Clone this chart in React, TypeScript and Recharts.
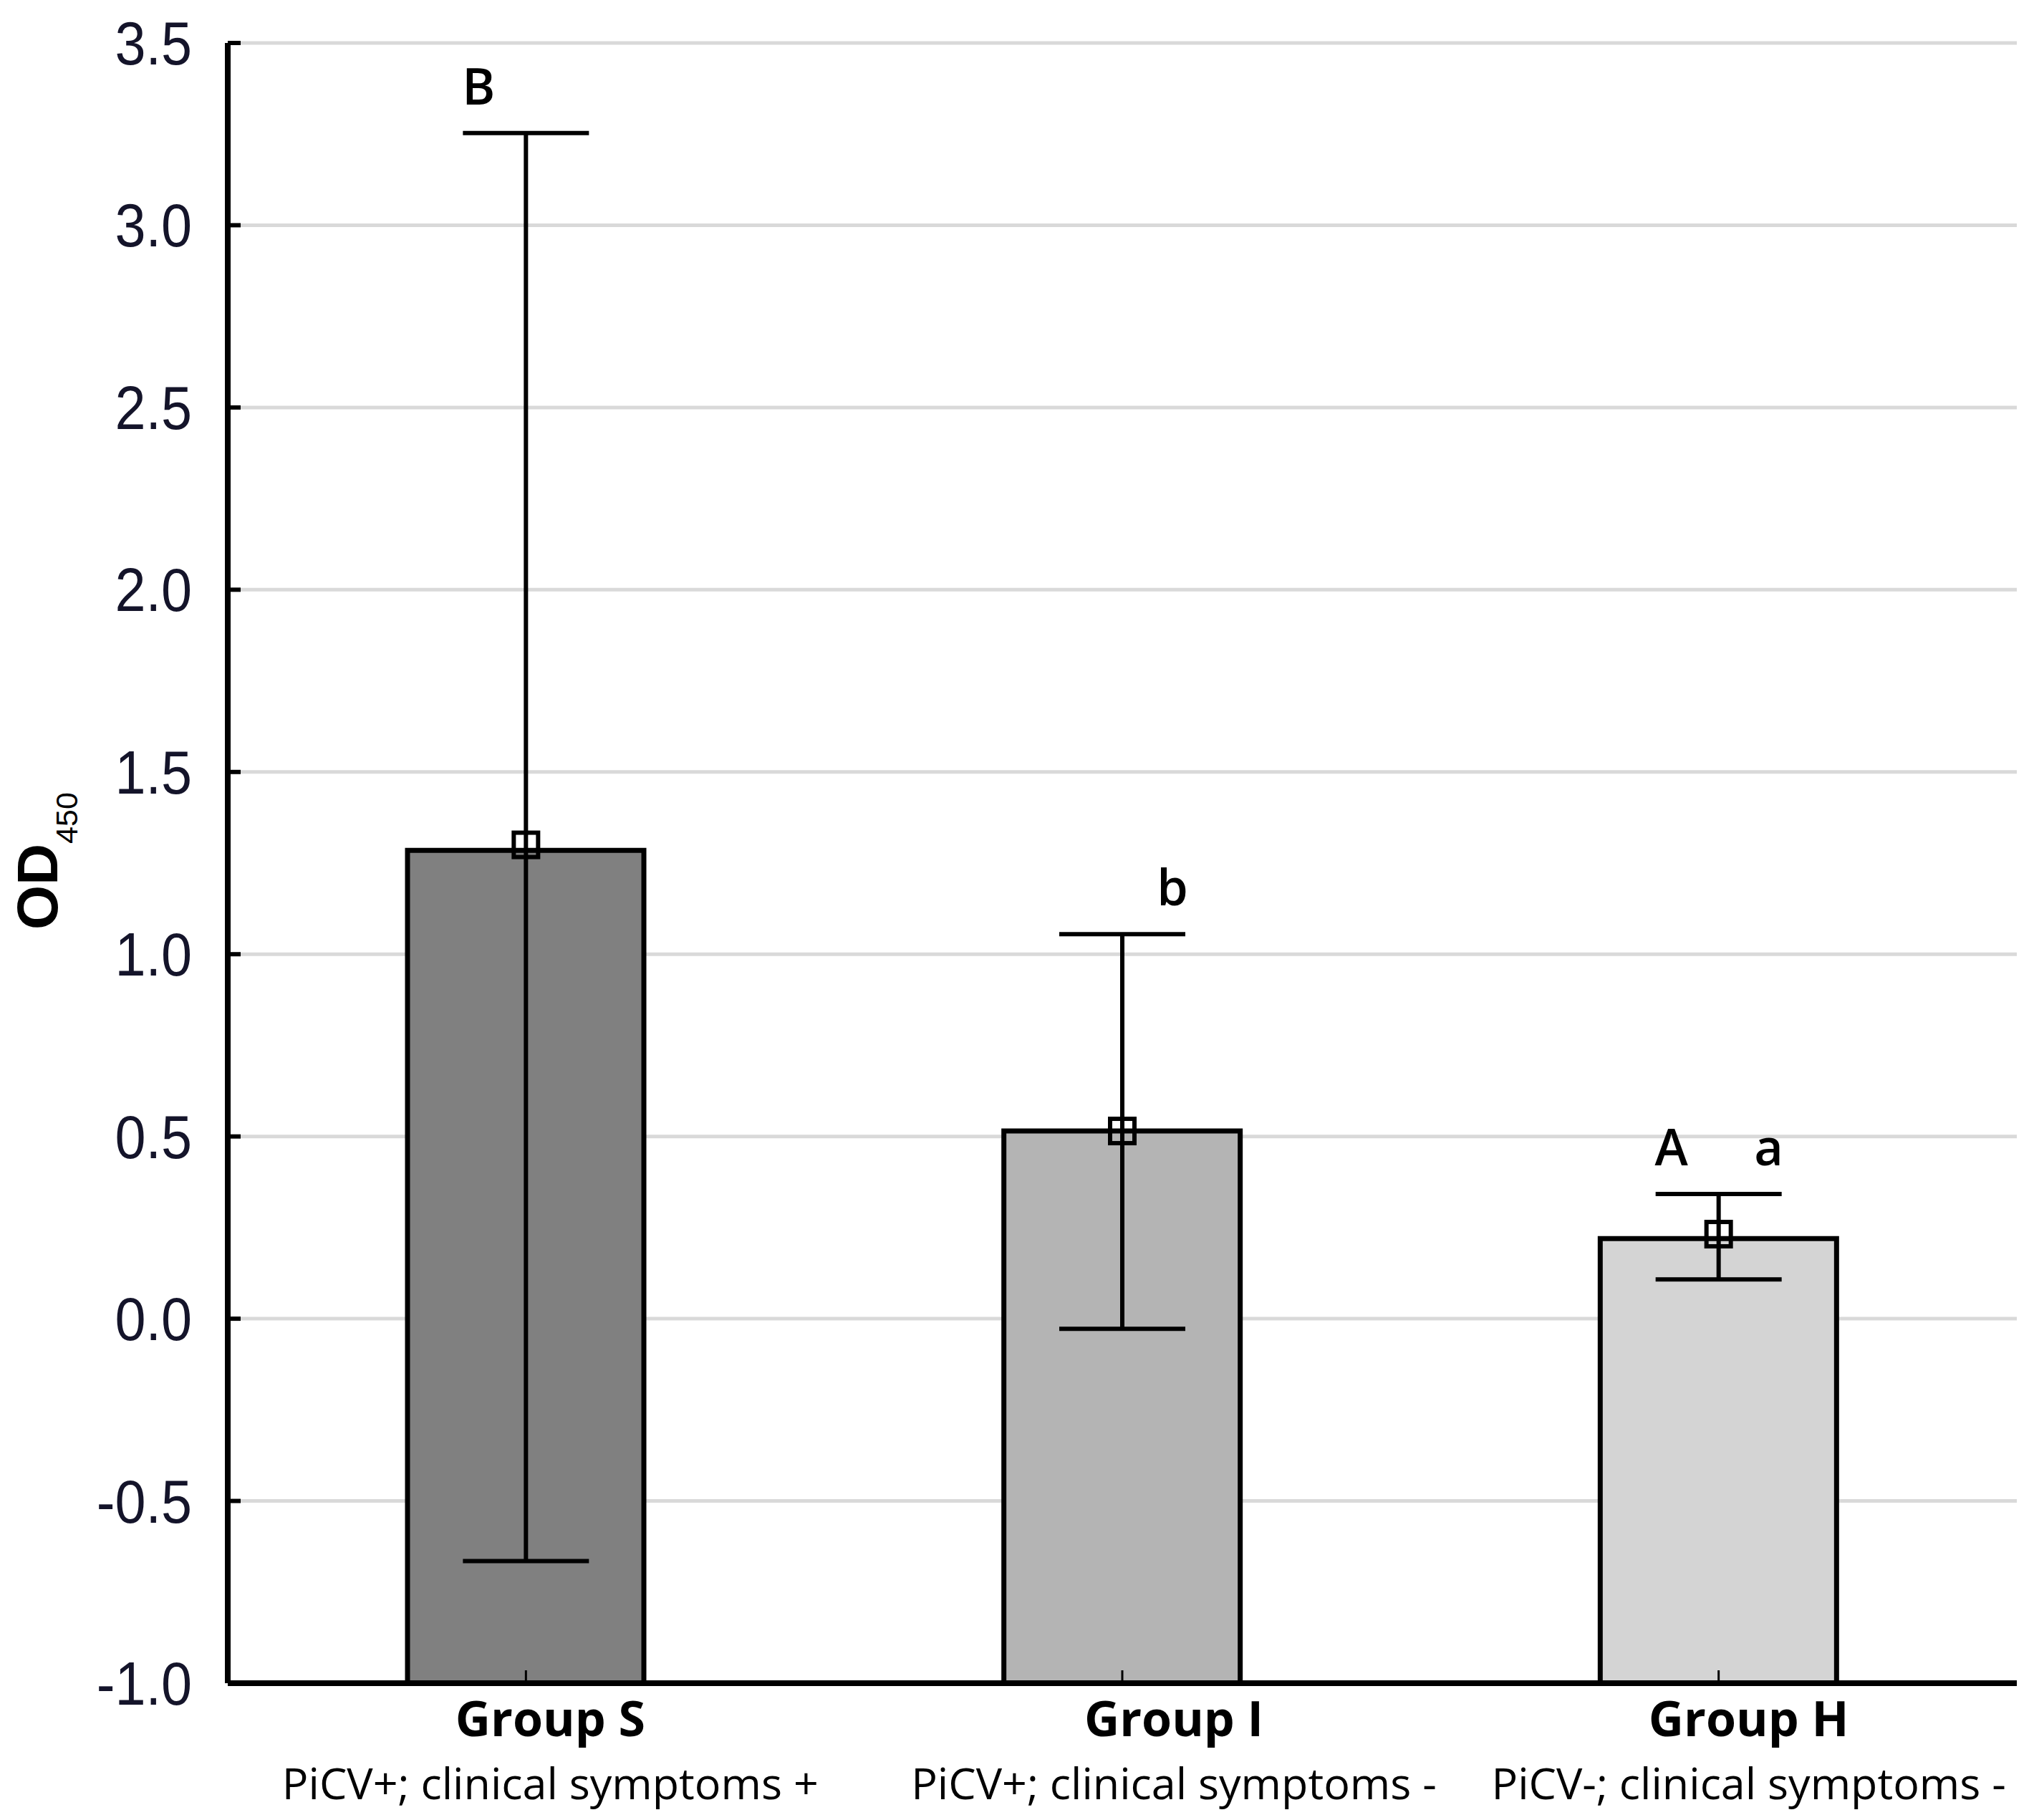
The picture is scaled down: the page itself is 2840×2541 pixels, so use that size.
import React from "react";
import {
  ComposedChart,
  Bar,
  Line,
  ErrorBar,
  XAxis,
  YAxis,
  CartesianGrid,
  Cell,
  LabelList,
} from "recharts";

// values
const groups = ["Group S", "Group I", "Group H"];
const groupNotes = [
  "PiCV+; clinical symptoms +",
  "PiCV+; clinical symptoms -",
  "PiCV-; clinical symptoms -",
];
const barValues = [1.285, 0.515, 0.22];
const meanValues = [1.3, 0.515, 0.232];
const lowerValues = [-0.665, -0.028, 0.108];
const upperValues = [3.253, 1.055, 0.342];
const lettersLeft = ["B", "", "A"];
const lettersRight = ["", "b", "a"];
const yTicks = [-1, -0.5, 0, 0.5, 1, 1.5, 2, 2.5, 3, 3.5];

const barColors = ["#808080", "#b4b4b4", "#d4d4d4"];

const W = 2840;
const H = 2541;
const LEFT = 318;
const RIGHT = 2816;
const TOP = 60;
const BOTTOM = 2350;
const TICK = 18;

const data = groups.map((name, i) => ({
  name,
  bar: [yTicks[0], barValues[i]],
  mean: meanValues[i],
  err: [meanValues[i] - lowerValues[i], upperValues[i] - meanValues[i]],
  upper: upperValues[i],
  left: lettersLeft[i],
  right: lettersRight[i],
}));

// small shift of the group captions, as in the original figure
const NUDGE = [34, 72, 42];

const GroupTick = (props: any) => {
  const { x, payload } = props;
  const i = payload.index;
  const cx = x + NUDGE[i];
  return (
    <g>
      <line x1={x} x2={x} y1={BOTTOM} y2={BOTTOM - TICK} stroke="#000" strokeWidth={3} />
      <text
        x={cx}
        y={2424}
        textAnchor="middle"
        fontFamily="Open Sans"
        fontWeight={700}
        fontSize={68}
        fill="#000"
      >
        {payload.value}
      </text>
      <text
        x={cx}
        y={2512}
        textAnchor="middle"
        fontFamily="Open Sans"
        fontSize={61}
        fill="#000"
      >
        {groupNotes[i]}
      </text>
    </g>
  );
};

const TopTick = (props: any) => (
  <line x1={props.x} x2={props.x} y1={TOP} y2={TOP + TICK} stroke="#000" strokeWidth={3} />
);

const LeftTick = (props: any) => {
  const { y, payload } = props;
  return (
    <g>
      <line x1={LEFT} x2={LEFT + TICK} y1={y} y2={y} stroke="#000" strokeWidth={6} />
      <text
        transform={`translate(${LEFT - 50},${y}) scale(0.9,1)`}
        textAnchor="end"
        dominantBaseline="central"
        fontFamily="Liberation Sans"
        fontSize={86}
        fill="#14142a"
      >
        {Number(payload.value).toFixed(1)}
      </text>
    </g>
  );
};

const RightTick = (props: any) => (
  <line x1={RIGHT - TICK} x2={RIGHT} y1={props.y} y2={props.y} stroke="#000" strokeWidth={6} />
);

const OdLabel = () => (
  <text
    transform={`rotate(-90, 80, 1202)`}
    x={80}
    y={1202}
    textAnchor="middle"
    fontFamily="Liberation Sans"
    fill="#000"
  >
    <tspan fontWeight={700} fontSize={80}>
      OD
    </tspan>
    <tspan fontSize={43} dy={28}>
      450
    </tspan>
  </text>
);

const SquareDot = (props: any) => {
  const { cx, cy } = props;
  if (cx == null || cy == null) return null;
  return (
    <rect x={cx - 17} y={cy - 17} width={34} height={34} fill="none" stroke="#000" strokeWidth={6} />
  );
};

const letterLabel = (dx: number) => (props: any) => {
  const { x, y, value } = props;
  if (!value) return null;
  return (
    <text
      x={x + dx}
      y={y - 40}
      textAnchor="middle"
      fontFamily="Open Sans"
      fontWeight={600}
      fontSize={70}
      fill="#000"
    >
      {value}
    </text>
  );
};

export default function App() {
  return (
    <div style={{ position: "absolute", left: 0, top: 0, width: W, height: H, background: "#fff" }}>
      <ComposedChart
        width={W}
        height={H}
        data={data}
        margin={{ top: TOP, right: W - RIGHT, bottom: 0, left: 0 }}
      >
        <CartesianGrid vertical={false} stroke="#d9d9d9" strokeWidth={5} />
        <Bar dataKey="bar" barSize={330} stroke="#000" strokeWidth={7} isAnimationActive={false}>
          {data.map((d, i) => (
            <Cell key={d.name} fill={barColors[i]} />
          ))}
        </Bar>
        <Line
          dataKey="mean"
          stroke="none"
          dot={<SquareDot />}
          activeDot={false}
          isAnimationActive={false}
        >
          <ErrorBar dataKey="err" direction="y" width={88} stroke="#000" strokeWidth={6} />
        </Line>
        <Line dataKey="upper" stroke="none" dot={false} activeDot={false} isAnimationActive={false}>
          <LabelList dataKey="left" content={letterLabel(-66)} />
          <LabelList dataKey="right" content={letterLabel(70)} />
        </Line>
        <XAxis
          dataKey="name"
          height={H - BOTTOM}
          interval={0}
          axisLine={{ stroke: "#000", strokeWidth: 8 }}
          tickLine={false}
          tick={<GroupTick />}
        />
        <XAxis
          xAxisId="top"
          dataKey="name"
          orientation="top"
          height={0}
          interval={0}
          axisLine={{ stroke: "#000", strokeWidth: 8 }}
          tickLine={false}
          tick={<TopTick />}
        />
        <YAxis
          type="number"
          domain={[yTicks[0], yTicks[yTicks.length - 1]]}
          ticks={yTicks}
          interval={0}
          width={LEFT}
          axisLine={{ stroke: "#000", strokeWidth: 8 }}
          tickLine={false}
          tick={<LeftTick />}
          label={{ content: () => <OdLabel /> }}
        />
        <YAxis
          yAxisId="r"
          orientation="right"
          type="number"
          domain={[yTicks[0], yTicks[yTicks.length - 1]]}
          ticks={yTicks}
          interval={0}
          width={0}
          axisLine={{ stroke: "#000", strokeWidth: 8 }}
          tickLine={false}
          tick={<RightTick />}
        />
      </ComposedChart>
    </div>
  );
}
